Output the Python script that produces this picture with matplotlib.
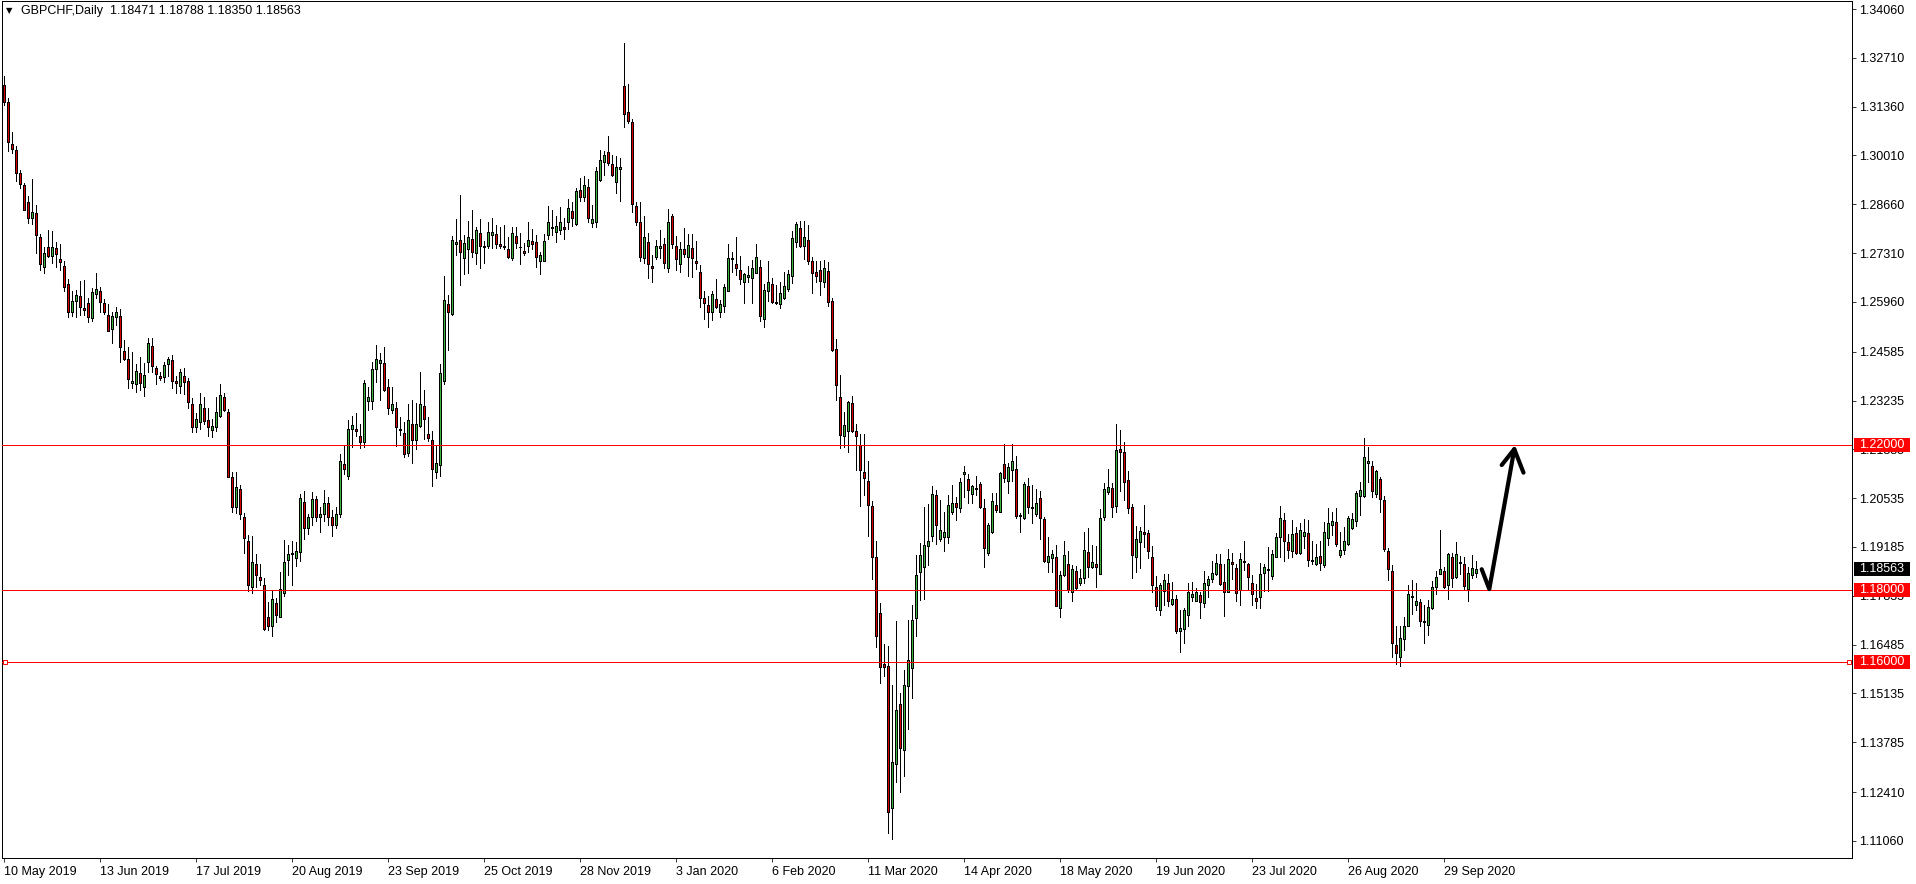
import numpy as np
import matplotlib.pyplot as plt
from matplotlib.patches import Rectangle
from matplotlib import transforms

# GBPCHF daily candles, one value per bar (10 May 2019 ... 9 Oct 2020)
opens = [
    1.3196, 1.3150, 1.3032, 1.3016, 1.2952, 1.2919, 1.2872, 1.2827, 1.2841, 1.2775,
    1.2692, 1.2747, 1.2724, 1.2744, 1.2714, 1.2695, 1.2645, 1.2567, 1.2598, 1.2612,
    1.2579, 1.2592, 1.2551, 1.2617, 1.2626, 1.2592, 1.2560, 1.2520, 1.2555, 1.2557,
    1.2461, 1.2438, 1.2371, 1.2369, 1.2399, 1.2360, 1.2431, 1.2474, 1.2413, 1.2390,
    1.2388, 1.2424, 1.2435, 1.2378, 1.2364, 1.2392, 1.2378, 1.2313, 1.2251, 1.2263,
    1.2302, 1.2270, 1.2241, 1.2251, 1.2282, 1.2333, 1.2291, 1.2111, 1.2028, 1.2079,
    1.2001, 1.1935, 1.1807, 1.1871, 1.1835, 1.1813, 1.1724, 1.1699, 1.1763, 1.1726,
    1.1791, 1.1883, 1.1901, 1.1887, 1.1904, 1.2042, 1.1972, 1.2000, 1.2050, 1.2000,
    1.2010, 1.2040, 1.2000, 1.1980, 1.2010, 1.2147, 1.2116, 1.2244, 1.2245, 1.2226,
    1.2210, 1.2322, 1.2323, 1.2410, 1.2428, 1.2427, 1.2360, 1.2298, 1.2302, 1.2245,
    1.2233, 1.2178, 1.2258, 1.2215, 1.2254, 1.2308, 1.2230, 1.2214, 1.2125, 1.2144,
    1.2378, 1.2590, 1.2563, 1.2755, 1.2767, 1.2717, 1.2742, 1.2769, 1.2732, 1.2786,
    1.2750, 1.2752, 1.2782, 1.2784, 1.2756, 1.2751, 1.2742, 1.2717, 1.2779, 1.2748,
    1.2737, 1.2750, 1.2765, 1.2761, 1.2708, 1.2710, 1.2782, 1.2800, 1.2789, 1.2794,
    1.2803, 1.2818, 1.2848, 1.2811, 1.2905, 1.2885, 1.2913, 1.2813, 1.2818, 1.2934,
    1.2982, 1.3010, 1.2977, 1.2927, 1.2963, 1.3193, 1.3120, 1.3093, 1.2861, 1.2818,
    1.2717, 1.2761, 1.2696, 1.2721, 1.2744, 1.2756, 1.2689, 1.2833, 1.2750, 1.2700,
    1.2742, 1.2720, 1.2744, 1.2710, 1.2678, 1.2606, 1.2587, 1.2567, 1.2603, 1.2568,
    1.2586, 1.2625, 1.2714, 1.2700, 1.2683, 1.2650, 1.2666, 1.2662, 1.2677, 1.2694,
    1.2548, 1.2625, 1.2645, 1.2597, 1.2590, 1.2606, 1.2631, 1.2669, 1.2763, 1.2800,
    1.2751, 1.2767, 1.2709, 1.2680, 1.2683, 1.2652, 1.2682, 1.2599, 1.2465, 1.2333,
    1.2226, 1.2238, 1.2317, 1.2239, 1.2200, 1.2125, 1.2101, 1.2032, 1.1891, 1.1736,
    1.1595, 1.1590, 1.1196, 1.1318, 1.1485, 1.1356, 1.1533, 1.1585, 1.1722, 1.1848,
    1.1864, 1.1920, 1.1950, 1.2063, 1.1940, 1.1947, 1.1947, 1.2016, 1.2040, 1.2026,
    1.2120, 1.2106, 1.2064, 1.2080, 1.2093, 1.2026, 1.1901, 1.1959, 1.2035, 1.2016,
    1.2148, 1.2100, 1.2132, 1.2134, 1.2005, 1.1998, 1.2087, 1.2028, 1.2010, 1.2053,
    1.1996, 1.1878, 1.1887, 1.1892, 1.1749, 1.1840, 1.1872, 1.1795, 1.1852, 1.1820,
    1.1834, 1.1905, 1.1864, 1.1872, 1.1843, 1.2000, 1.2070, 1.2081, 1.2033, 1.2190,
    1.2181, 1.2104, 1.2028, 1.1892, 1.1931, 1.1960, 1.1956, 1.1890, 1.1807, 1.1745,
    1.1796, 1.1818, 1.1762, 1.1774, 1.1685, 1.1691, 1.1730, 1.1781, 1.1770, 1.1785,
    1.1763, 1.1812, 1.1829, 1.1843, 1.1871, 1.1821, 1.1795, 1.1876, 1.1860, 1.1800,
    1.1880, 1.1871, 1.1818, 1.1777, 1.1781, 1.1846, 1.1858, 1.1837, 1.1892, 1.1947,
    1.1993, 1.1932, 1.1906, 1.1956, 1.1903, 1.1949, 1.1957, 1.1883, 1.1871, 1.1894,
    1.1869, 1.1943, 1.1978, 1.1987, 1.1895, 1.1909, 1.1926, 1.1970, 1.1989, 1.2060,
    1.2060, 1.2150, 1.2143, 1.2064, 1.2107, 1.2049, 1.1908, 1.1852, 1.1647, 1.1613,
    1.1664, 1.1701, 1.1783, 1.1758, 1.1766, 1.1714, 1.1703, 1.1749, 1.1809, 1.1844,
    1.1851, 1.1812, 1.1890, 1.1835, 1.1878, 1.1871, 1.1802, 1.1841, 1.18471,
]
highs = [
    1.3221, 1.3159, 1.3065, 1.3027, 1.2961, 1.2926, 1.2889, 1.2936, 1.2864, 1.2784,
    1.2749, 1.2795, 1.2792, 1.2763, 1.2756, 1.2709, 1.2660, 1.2626, 1.2629, 1.2654,
    1.2657, 1.2606, 1.2634, 1.2675, 1.2636, 1.2603, 1.2590, 1.2567, 1.2583, 1.2576,
    1.2491, 1.2471, 1.2457, 1.2424, 1.2443, 1.2428, 1.2496, 1.2497, 1.2420, 1.2403,
    1.2431, 1.2445, 1.2450, 1.2392, 1.2411, 1.2413, 1.2385, 1.2330, 1.2288, 1.2344,
    1.2334, 1.2302, 1.2273, 1.2333, 1.2369, 1.2344, 1.2299, 1.2125, 1.2125, 1.2090,
    1.2012, 1.1951, 1.1949, 1.1899, 1.1871, 1.1834, 1.1766, 1.1798, 1.1777, 1.1850,
    1.1938, 1.1923, 1.1934, 1.1932, 1.2065, 1.2074, 1.2010, 1.2070, 1.2060, 1.2030,
    1.2075, 1.2058, 1.2020, 1.2030, 1.2176, 1.2201, 1.2270, 1.2281, 1.2290, 1.2258,
    1.2380, 1.2362, 1.2429, 1.2477, 1.2454, 1.2472, 1.2382, 1.2362, 1.2318, 1.2277,
    1.2265, 1.2314, 1.2325, 1.2316, 1.2402, 1.2353, 1.2277, 1.2239, 1.2199, 1.2424,
    1.2669, 1.2615, 1.2779, 1.2826, 1.2892, 1.2781, 1.2820, 1.2850, 1.2802, 1.2825,
    1.2765, 1.2818, 1.2829, 1.2809, 1.2802, 1.2809, 1.2775, 1.2804, 1.2804, 1.2786,
    1.2758, 1.2818, 1.2798, 1.2781, 1.2735, 1.2783, 1.2861, 1.2849, 1.2834, 1.2859,
    1.2827, 1.2880, 1.2871, 1.2910, 1.2938, 1.2943, 1.2936, 1.2864, 1.2968, 1.3015,
    1.3014, 1.3055, 1.3002, 1.3000, 1.2993, 1.3311, 1.3199, 1.3101, 1.2873, 1.2873,
    1.2834, 1.2786, 1.2726, 1.2767, 1.2795, 1.2772, 1.2853, 1.2839, 1.2779, 1.2762,
    1.2800, 1.2784, 1.2783, 1.2765, 1.2698, 1.2625, 1.2613, 1.2625, 1.2659, 1.2602,
    1.2646, 1.2756, 1.2734, 1.2775, 1.2723, 1.2677, 1.2696, 1.2712, 1.2756, 1.2712,
    1.2646, 1.2709, 1.2662, 1.2643, 1.2652, 1.2678, 1.2685, 1.2792, 1.2818, 1.2820,
    1.2820, 1.2809, 1.2719, 1.2710, 1.2709, 1.2712, 1.2706, 1.2606, 1.2493, 1.2394,
    1.2292, 1.2322, 1.2336, 1.2259, 1.2231, 1.2230, 1.2157, 1.2046, 1.1934, 1.1763,
    1.1651, 1.1646, 1.1537, 1.1714, 1.1516, 1.1579, 1.1717, 1.1758, 1.1897, 1.1929,
    1.2030, 1.2038, 1.2086, 1.2076, 1.2049, 1.2015, 1.2063, 1.2090, 1.2058, 1.2109,
    1.2143, 1.2120, 1.2090, 1.2116, 1.2098, 1.2051, 1.1986, 1.2067, 1.2069, 1.2127,
    1.2204, 1.2152, 1.2203, 1.2170, 1.2012, 1.2097, 1.2110, 1.2090, 1.2078, 1.2072,
    1.2000, 1.1947, 1.1911, 1.1924, 1.1852, 1.1934, 1.1908, 1.1869, 1.1866, 1.1857,
    1.1961, 1.1972, 1.1923, 1.1920, 1.2024, 1.2095, 1.2134, 1.2095, 1.2259, 1.2242,
    1.2208, 1.2129, 1.2038, 1.1977, 1.1975, 1.2035, 1.1966, 1.1922, 1.1837, 1.1818,
    1.1844, 1.1844, 1.1821, 1.1786, 1.1745, 1.1749, 1.1820, 1.1821, 1.1805, 1.1793,
    1.1852, 1.1839, 1.1880, 1.1899, 1.1899, 1.1871, 1.1912, 1.1903, 1.1871, 1.1901,
    1.1935, 1.1875, 1.1841, 1.1816, 1.1874, 1.1871, 1.1918, 1.1910, 1.1958, 1.2032,
    1.2012, 1.1954, 1.1993, 1.1973, 1.1986, 1.1995, 1.1993, 1.1935, 1.1926, 1.1935,
    1.1987, 1.2026, 1.2016, 1.2026, 1.1959, 1.1973, 1.2003, 1.2012, 1.2074, 1.2099,
    1.2221, 1.2194, 1.2155, 1.2132, 1.2111, 1.2060, 1.1917, 1.1869, 1.1699, 1.1699,
    1.1726, 1.1812, 1.1826, 1.1818, 1.1774, 1.1757, 1.1772, 1.1825, 1.1851, 1.1966,
    1.1864, 1.1903, 1.1903, 1.1931, 1.1894, 1.1892, 1.1864, 1.1897, 1.18788,
]
lows = [
    1.3141, 1.3014, 1.3007, 1.2931, 1.2910, 1.2849, 1.2815, 1.2812, 1.2731, 1.2683,
    1.2677, 1.2719, 1.2703, 1.2692, 1.2683, 1.2625, 1.2555, 1.2557, 1.2554, 1.2560,
    1.2560, 1.2540, 1.2544, 1.2608, 1.2569, 1.2563, 1.2517, 1.2482, 1.2531, 1.2429,
    1.2436, 1.2357, 1.2357, 1.2346, 1.2353, 1.2337, 1.2402, 1.2402, 1.2369, 1.2380,
    1.2376, 1.2392, 1.2359, 1.2345, 1.2345, 1.2341, 1.2304, 1.2236, 1.2236, 1.2244,
    1.2259, 1.2224, 1.2222, 1.2240, 1.2279, 1.2295, 1.2111, 1.2016, 1.2012, 1.1996,
    1.1901, 1.1798, 1.1791, 1.1807, 1.1812, 1.1689, 1.1689, 1.1673, 1.1710, 1.1724,
    1.1784, 1.1841, 1.1814, 1.1867, 1.1881, 1.1940, 1.1955, 1.1980, 1.1990, 1.1960,
    1.1990, 1.1980, 1.1950, 1.1970, 1.2000, 1.2120, 1.2106, 1.2194, 1.2224, 1.2192,
    1.2196, 1.2298, 1.2301, 1.2374, 1.2325, 1.2351, 1.2286, 1.2288, 1.2199, 1.2227,
    1.2167, 1.2170, 1.2152, 1.2189, 1.2250, 1.2216, 1.2212, 1.2088, 1.2110, 1.2116,
    1.2369, 1.2462, 1.2560, 1.2726, 1.2643, 1.2673, 1.2677, 1.2720, 1.2700, 1.2691,
    1.2705, 1.2746, 1.2744, 1.2744, 1.2744, 1.2742, 1.2717, 1.2711, 1.2744, 1.2702,
    1.2726, 1.2735, 1.2743, 1.2694, 1.2673, 1.2709, 1.2770, 1.2781, 1.2763, 1.2784,
    1.2769, 1.2798, 1.2807, 1.2809, 1.2875, 1.2875, 1.2818, 1.2802, 1.2804, 1.2931,
    1.2947, 1.2975, 1.2943, 1.2896, 1.2876, 1.3079, 1.3092, 1.2846, 1.2809, 1.2708,
    1.2705, 1.2662, 1.2652, 1.2715, 1.2717, 1.2691, 1.2680, 1.2746, 1.2683, 1.2680,
    1.2719, 1.2669, 1.2666, 1.2686, 1.2583, 1.2548, 1.2526, 1.2546, 1.2578, 1.2554,
    1.2569, 1.2625, 1.2678, 1.2671, 1.2645, 1.2592, 1.2652, 1.2592, 1.2675, 1.2542,
    1.2528, 1.2600, 1.2592, 1.2590, 1.2580, 1.2604, 1.2625, 1.2648, 1.2749, 1.2749,
    1.2714, 1.2700, 1.2622, 1.2652, 1.2615, 1.2636, 1.2585, 1.2459, 1.2325, 1.2192,
    1.2196, 1.2180, 1.2236, 1.2130, 1.2033, 1.2061, 1.1950, 1.1829, 1.1641, 1.1542,
    1.1563, 1.1127, 1.1111, 1.1268, 1.1240, 1.1286, 1.1415, 1.1500, 1.1671, 1.1772,
    1.1775, 1.1869, 1.1934, 1.1927, 1.1936, 1.1906, 1.1929, 1.2010, 1.1993, 1.2016,
    1.2058, 1.2041, 1.2040, 1.2063, 1.2026, 1.1864, 1.1897, 1.1957, 1.2016, 1.2014,
    1.2097, 1.2067, 1.2102, 1.1998, 1.1961, 1.1996, 1.2012, 1.1984, 1.2005, 1.1940,
    1.1878, 1.1849, 1.1849, 1.1754, 1.1724, 1.1837, 1.1795, 1.1770, 1.1802, 1.1814,
    1.1820, 1.1835, 1.1860, 1.1807, 1.1843, 1.1992, 1.2064, 1.2000, 1.2016, 1.2072,
    1.2049, 1.2012, 1.1834, 1.1848, 1.1860, 1.1918, 1.1889, 1.1795, 1.1743, 1.1731,
    1.1758, 1.1754, 1.1758, 1.1680, 1.1627, 1.1652, 1.1701, 1.1770, 1.1768, 1.1723,
    1.1752, 1.1779, 1.1823, 1.1840, 1.1814, 1.1729, 1.1793, 1.1830, 1.1768, 1.1757,
    1.1855, 1.1803, 1.1757, 1.1751, 1.1749, 1.1797, 1.1797, 1.1829, 1.1890, 1.1890,
    1.1881, 1.1887, 1.1892, 1.1899, 1.1900, 1.1915, 1.1867, 1.1872, 1.1869, 1.1855,
    1.1862, 1.1924, 1.1952, 1.1920, 1.1890, 1.1898, 1.1924, 1.1969, 1.1977, 1.2007,
    1.2058, 1.2099, 1.2058, 1.2058, 1.2014, 1.1906, 1.1828, 1.1614, 1.1594, 1.1590,
    1.1634, 1.1699, 1.1734, 1.1743, 1.1700, 1.1652, 1.1675, 1.1747, 1.1789, 1.1843,
    1.1804, 1.1775, 1.1809, 1.1832, 1.1844, 1.1802, 1.1770, 1.1834, 1.18350,
]
closes = [
    1.3150, 1.3037, 1.3018, 1.2952, 1.2921, 1.2850, 1.2827, 1.2844, 1.2780, 1.2700,
    1.2731, 1.2724, 1.2747, 1.2728, 1.2706, 1.2638, 1.2567, 1.2598, 1.2614, 1.2581,
    1.2575, 1.2555, 1.2623, 1.2631, 1.2595, 1.2567, 1.2517, 1.2558, 1.2567, 1.2471,
    1.2438, 1.2382, 1.2378, 1.2405, 1.2371, 1.2394, 1.2482, 1.2419, 1.2396, 1.2385,
    1.2421, 1.2438, 1.2377, 1.2371, 1.2402, 1.2374, 1.2319, 1.2251, 1.2273, 1.2313,
    1.2268, 1.2249, 1.2253, 1.2291, 1.2338, 1.2298, 1.2113, 1.2028, 1.2084, 1.2009,
    1.1942, 1.1812, 1.1876, 1.1840, 1.1826, 1.1691, 1.1699, 1.1774, 1.1731, 1.1802,
    1.1876, 1.1899, 1.1899, 1.1908, 1.2053, 1.1972, 1.2000, 1.2050, 1.2000, 1.2010,
    1.2040, 1.2000, 1.1980, 1.2010, 1.2157, 1.2133, 1.2245, 1.2256, 1.2238, 1.2208,
    1.2373, 1.2333, 1.2411, 1.2438, 1.2436, 1.2353, 1.2304, 1.2313, 1.2251, 1.2241,
    1.2175, 1.2270, 1.2215, 1.2258, 1.2313, 1.2272, 1.2221, 1.2133, 1.2150, 1.2399,
    1.2602, 1.2568, 1.2767, 1.2761, 1.2733, 1.2758, 1.2775, 1.2735, 1.2794, 1.2750,
    1.2749, 1.2789, 1.2790, 1.2757, 1.2750, 1.2749, 1.2721, 1.2786, 1.2760, 1.2747,
    1.2732, 1.2767, 1.2756, 1.2720, 1.2726, 1.2765, 1.2817, 1.2804, 1.2806, 1.2817,
    1.2797, 1.2856, 1.2827, 1.2903, 1.2887, 1.2919, 1.2827, 1.2825, 1.2958, 1.2989,
    1.3002, 1.2979, 1.2947, 1.2968, 1.2968, 1.3115, 1.3097, 1.2866, 1.2818, 1.2721,
    1.2775, 1.2700, 1.2689, 1.2751, 1.2751, 1.2705, 1.2816, 1.2756, 1.2714, 1.2742,
    1.2728, 1.2753, 1.2717, 1.2703, 1.2606, 1.2592, 1.2567, 1.2617, 1.2583, 1.2590,
    1.2638, 1.2717, 1.2717, 1.2689, 1.2659, 1.2673, 1.2670, 1.2689, 1.2720, 1.2557,
    1.2628, 1.2652, 1.2597, 1.2592, 1.2620, 1.2640, 1.2673, 1.2772, 1.2811, 1.2751,
    1.2775, 1.2709, 1.2675, 1.2669, 1.2655, 1.2689, 1.2597, 1.2462, 1.2365, 1.2228,
    1.2255, 1.2320, 1.2240, 1.2226, 1.2130, 1.2108, 1.2034, 1.1892, 1.1671, 1.1588,
    1.1588, 1.1187, 1.1323, 1.1468, 1.1362, 1.1537, 1.1606, 1.1717, 1.1841, 1.1897,
    1.1924, 1.1935, 1.2065, 1.1978, 1.1966, 1.1959, 1.2035, 1.2040, 1.2030, 1.2098,
    1.2125, 1.2075, 1.2086, 1.2082, 1.2030, 1.1915, 1.1980, 1.2046, 1.2021, 1.2124,
    1.2109, 1.2139, 1.2156, 1.2003, 1.2007, 1.2093, 1.2028, 1.2025, 1.2040, 1.1998,
    1.1880, 1.1894, 1.1899, 1.1754, 1.1841, 1.1897, 1.1800, 1.1858, 1.1806, 1.1833,
    1.1911, 1.1864, 1.1877, 1.1864, 1.1998, 1.2079, 1.2084, 1.2030, 1.2187, 1.2181,
    1.2098, 1.2025, 1.1895, 1.1941, 1.1962, 1.1955, 1.1906, 1.1812, 1.1754, 1.1812,
    1.1827, 1.1768, 1.1774, 1.1687, 1.1694, 1.1744, 1.1793, 1.1788, 1.1793, 1.1766,
    1.1818, 1.1829, 1.1846, 1.1874, 1.1816, 1.1795, 1.1885, 1.1871, 1.1791, 1.1885,
    1.1876, 1.1835, 1.1788, 1.1770, 1.1843, 1.1864, 1.1855, 1.1899, 1.1947, 1.1998,
    1.1934, 1.1909, 1.1954, 1.1903, 1.1966, 1.1959, 1.1883, 1.1881, 1.1890, 1.1875,
    1.1959, 1.1984, 1.1991, 1.1926, 1.1910, 1.1935, 1.1998, 1.1996, 1.2067, 1.2076,
    1.2167, 1.2157, 1.2072, 1.2129, 1.2051, 1.1912, 1.1857, 1.1654, 1.1625, 1.1666,
    1.1699, 1.1789, 1.1780, 1.1769, 1.1715, 1.1710, 1.1752, 1.1807, 1.1835, 1.1857,
    1.1809, 1.1898, 1.1832, 1.1898, 1.1875, 1.1811, 1.1846, 1.1860, 1.18563,
]

date_labels = ['10 May 2019', '13 Jun 2019', '17 Jul 2019', '20 Aug 2019',
               '23 Sep 2019', '25 Oct 2019', '28 Nov 2019', '3 Jan 2020',
               '6 Feb 2020', '11 Mar 2020', '14 Apr 2020', '18 May 2020',
               '19 Jun 2020', '23 Jul 2020', '26 Aug 2020', '29 Sep 2020']
bars_per_label = 24

price_ticks = [1.34060, 1.32710, 1.31360, 1.30010, 1.28660, 1.27310, 1.25960,
               1.24585, 1.23235, 1.21885, 1.20535, 1.19185, 1.17835, 1.16485,
               1.15135, 1.13785, 1.12410, 1.11060]
levels = [1.22000, 1.18000, 1.16000]
last_price = 1.18563
title = 'GBPCHF,Daily  1.18471 1.18788 1.18350 1.18563'

# hand drawn arrow (bar index, price)
arrow_x = [369.55, 371.45, 377.7]
arrow_y = [1.1857, 1.1802, 1.2189]
head_x = [374.55, 377.7, 380.0]
head_y = [1.2145, 1.2189, 1.2124]

plt.rcParams['font.family'] = ['Liberation Sans', 'DejaVu Sans']

o = np.array(opens)
h = np.array(highs)
l = np.array(lows)
c = np.array(closes)
x = np.arange(len(c))
up = c >= o

W, H = 1916, 884
fig = plt.figure(figsize=(W / 100, H / 100), dpi=100)
ax = fig.add_axes([2 / W, (H - 858) / H, 1850 / W, 857 / H])

pp = 0.0002765  # price per screen pixel
ax.set_xlim(-0.375, 462.125)
ax.set_ylim(1.3406 - 849 * pp, 1.3406 + 8 * pp)

thin = 0.55  # about one screen pixel
ax.vlines(x, l, h, colors='black', linewidth=thin, antialiased=False, zorder=2)
ax.bar(x, np.abs(c - o), bottom=np.minimum(o, c), width=0.5,
       color=np.where(up, '#3cb43c', '#dc0000'), edgecolor='black',
       linewidth=thin, antialiased=False, zorder=3)

for lv in levels:
    ax.axhline(lv, color='red', linewidth=thin, antialiased=False, zorder=4)
x0, x1 = ax.get_xlim()
ax.plot([x0 + 0.75, x1 - 0.75], [levels[2], levels[2]], 's', ms=3.2,
        mfc='white', mec='red', mew=0.7, zorder=5, clip_on=False)

ax.plot(arrow_x, arrow_y, color='black', linewidth=3.0,
        solid_capstyle='round', solid_joinstyle='round', zorder=6)
ax.plot(head_x, head_y, color='black', linewidth=3.0,
        solid_capstyle='round', solid_joinstyle='round', zorder=6)

# price scale on the right
ax.yaxis.tick_right()
ax.set_yticks(price_ticks)
ax.set_yticklabels([f'{t:.5f}' for t in price_ticks])
ax.tick_params(axis='y', direction='out', length=3, width=thin, pad=2.2,
               labelsize=9, colors='black')

ax.set_xticks(np.arange(len(date_labels)) * bars_per_label)
ax.set_xticklabels(date_labels)
ax.tick_params(axis='x', direction='out', length=3, width=thin, pad=2.5,
               labelsize=9, colors='black')
for lbl in ax.get_xticklabels():
    lbl.set_ha('left')

for s in ax.spines.values():
    s.set_linewidth(thin)
    s.set_color('black')
    s.set_antialiased(False)

blend = transforms.blended_transform_factory(ax.transAxes, ax.transData)
bw = 56 / 1850
bx = 1 + 2 / 1850
bh = 14 * pp
for val, col in [(levels[0], 'red'), (levels[1], 'red'), (levels[2], 'red'),
                 (last_price, 'black')]:
    ax.add_patch(Rectangle((bx, val - bh / 2), bw, bh, transform=blend,
                           facecolor=col, edgecolor='none', clip_on=False,
                           zorder=8))
    ax.text(bx + 5 / 1850, val, f'{val:.5f}', transform=blend, color='white',
            fontsize=9, ha='left', va='center', zorder=9, clip_on=False)

ax.text(7 / 1850, 1 - 10 / 857, '\u25bc', transform=ax.transAxes,
        fontsize=6, ha='center', va='center', family=['DejaVu Sans'])
ax.text(19 / 1850, 1 - 10 / 857, title, transform=ax.transAxes,
        fontsize=9, ha='left', va='center')

fig.savefig('out.png', dpi=100)
